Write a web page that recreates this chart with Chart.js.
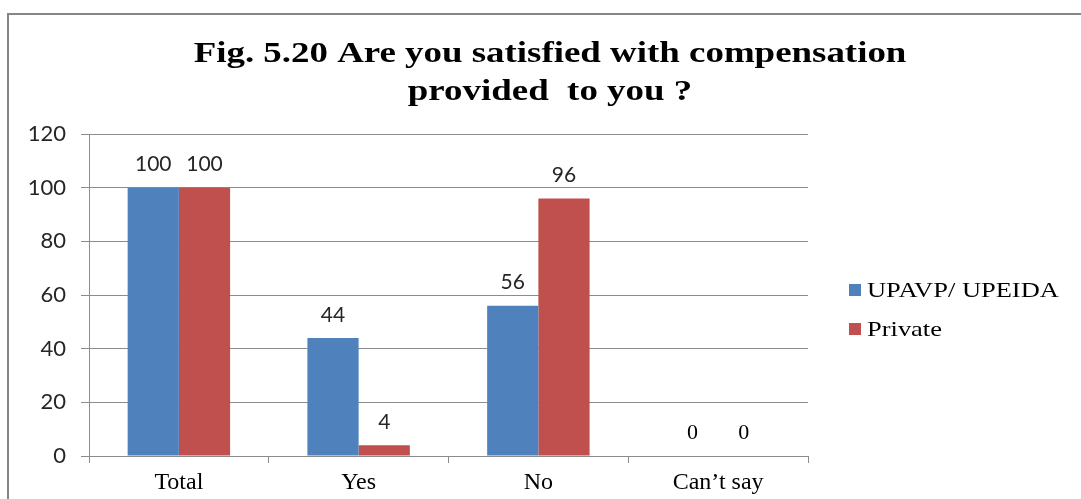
<!DOCTYPE html>
<html>
<head>
<meta charset="utf-8">
<script src="https://cdn.jsdelivr.net/npm/chart.js@4.4.0/dist/chart.umd.min.js"></script>
<style>
  html, body { margin: 0; padding: 0; background: #ffffff; }
  #wrap { width: 1081px; height: 499px; position: relative; }
</style>
</head>
<body>
<div id="wrap"><canvas id="c" width="1081" height="499"></canvas></div>
<script>
const titleLines = ['Fig. 5.20 Are you satisfied with compensation', 'provided  to you ?'];
const categories = ['Total', 'Yes', 'No', 'Can\u2019t say'];
const seriesNames = ['UPAVP/ UPEIDA', 'Private'];
const upavpValues = [100, 44, 56, 0];
const privateValues = [100, 4, 96, 0];
const yMin = 0, yMax = 120, yStep = 20;

const colors = ['#4F81BD', '#C0504D'];

const framePlugin = {
  id: 'frame',
  beforeDraw(chart) {
    const ctx = chart.ctx;
    ctx.save();
    ctx.fillStyle = '#ffffff';
    ctx.fillRect(0, 0, chart.width, chart.height);
    ctx.strokeStyle = '#868686';
    ctx.lineWidth = 2;
    ctx.strokeRect(8, 14, 2000, 2000);
    ctx.restore();
  }
};

const titlePlugin = {
  id: 'customTitle',
  afterDraw(chart) {
    const ctx = chart.ctx;
    ctx.save();
    ctx.fillStyle = '#000000';
    ctx.font = 'bold 30px "Liberation Serif", "Times New Roman", serif';
    ctx.textAlign = 'center';
    ctx.textBaseline = 'alphabetic';
    const sx = 1.23;
    const cx = 550;
    const baselines = [62, 100];
    titleLines.forEach((line, i) => {
      ctx.save();
      ctx.translate(cx, baselines[i]);
      ctx.scale(sx, 1);
      ctx.fillText(line, 0, 0);
      ctx.restore();
    });
    ctx.restore();
  }
};

const legendPlugin = {
  id: 'customLegend',
  afterDraw(chart) {
    const ctx = chart.ctx;
    ctx.save();
    const boxX = 849, box = 12;
    const baselines = [297, 336];
    chart.data.datasets.forEach((ds, i) => {
      ctx.fillStyle = ds.backgroundColor;
      ctx.fillRect(boxX, baselines[i] - 13, box, box);
      ctx.save();
      ctx.fillStyle = '#000000';
      ctx.font = '21px "Liberation Serif", "Times New Roman", serif';
      ctx.textAlign = 'left';
      ctx.textBaseline = 'alphabetic';
      ctx.translate(867, baselines[i]);
      ctx.scale(1.26, 1);
      ctx.fillText(ds.label, 0, 0);
      ctx.restore();
    });
    ctx.restore();
  }
};

const valueLabelPlugin = {
  id: 'valueLabels',
  afterDatasetsDraw(chart) {
    const ctx = chart.ctx;
    ctx.save();
    ctx.textAlign = 'center';
    ctx.textBaseline = 'middle';
    chart.data.datasets.forEach((ds, di) => {
      const meta = chart.getDatasetMeta(di);
      meta.data.forEach((bar, i) => {
        const v = ds.data[i];
        if (v === 0) {
          ctx.font = '22px "Liberation Serif", "Times New Roman", serif';
          ctx.fillStyle = '#000000';
        } else {
          ctx.font = '21px Lato, "Open Sans", sans-serif';
          ctx.fillStyle = '#262626';
        }
        ctx.fillText(String(v), bar.x, bar.y - 23);
      });
    });
    ctx.restore();
  }
};

new Chart(document.getElementById('c'), {
  type: 'bar',
  data: {
    labels: categories,
    datasets: [
      { label: seriesNames[0], data: upavpValues, backgroundColor: colors[0], borderWidth: 0 },
      { label: seriesNames[1], data: privateValues, backgroundColor: colors[1], borderWidth: 0 }
    ]
  },
  options: {
    responsive: false,
    animation: false,
    devicePixelRatio: 1,
    categoryPercentage: 0.57,
    barPercentage: 1.0,
    layout: { padding: { top: 134, right: 273, left: 0, bottom: 0 } },
    plugins: {
      legend: { display: false },
      title: { display: false },
      tooltip: { enabled: false }
    },
    scales: {
      x: {
        grid: {
          display: true,
          drawOnChartArea: false,
          drawTicks: true,
          tickLength: 7,
          color: '#8c8c8c',
          offset: true
        },
        border: { display: true, color: '#8c8c8c', width: 1 },
        ticks: {
          color: '#000000',
          font: { family: '"Liberation Serif", "Times New Roman", serif', size: 24 },
          padding: 5,
          maxRotation: 0
        },
        afterFit(scale) { scale.height = 43; }
      },
      y: {
        min: yMin,
        max: yMax,
        ticks: {
          stepSize: yStep,
          color: '#262626',
          font: { family: 'Lato, "Open Sans", sans-serif', size: 22 },
          padding: 15
        },
        grid: {
          color: '#8c8c8c',
          lineWidth: 1,
          drawTicks: true,
          tickLength: 8
        },
        border: { display: true, color: '#8c8c8c', width: 1 },
        afterFit(scale) { scale.width = 89; }
      }
    }
  },
  plugins: [framePlugin, valueLabelPlugin, titlePlugin, legendPlugin]
});
</script>
</body>
</html>
